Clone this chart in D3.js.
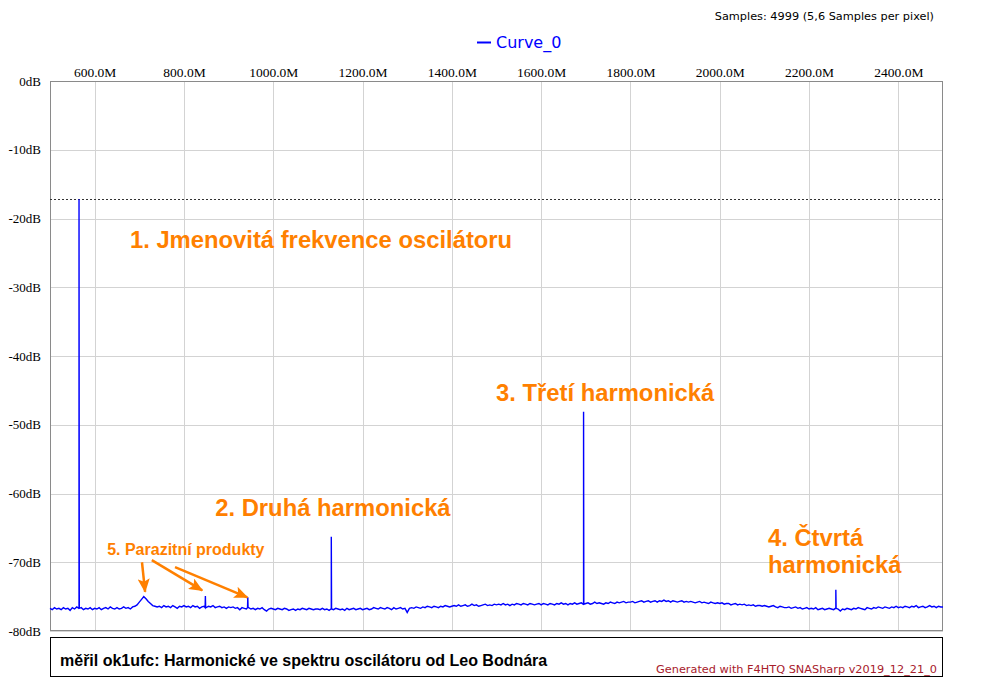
<!DOCTYPE html>
<html>
<head>
<meta charset="utf-8">
<script src="https://cdn.jsdelivr.net/npm/d3@7"></script>
<style>
  html, body { margin: 0; padding: 0; background: #fff; }
  svg { display: block; }
</style>
</head>
<body>
<svg id="chart" width="982" height="682"></svg>
<script>
// ---------------- DATA ----------------
const freqStart = 500;      // MHz, first floor sample
const freqStep = 5;         // MHz between floor samples
// Noise floor (dB), 500 .. 2500 MHz
const floorLevels = [
  -76.7,-76.9,-76.6,-76.8,-76.7,-76.9,-76.6,-76.8,-76.7,-77.0,
  -76.6,-76.8,-76.5,-76.7,-76.6,-76.9,-76.7,-76.8,-76.6,-76.9,
  -76.7,-76.8,-76.6,-76.9,-76.7,-76.6,-76.8,-76.5,-76.7,-76.8,
  -76.6,-76.8,-76.7,-76.5,-76.7,-76.6,-76.8,-76.5,-76.4,-76.2,
  -75.8,-75.4,-75.0,-75.3,-75.7,-76.0,-76.3,-76.4,-76.5,-76.4,
  -76.6,-76.3,-76.5,-76.4,-76.6,-76.3,-76.5,-76.7,-76.4,-76.5,
  -76.3,-76.5,-76.4,-76.6,-76.3,-76.5,-76.4,-76.7,-76.5,-76.4,
  -76.6,-76.4,-76.5,-76.3,-76.6,-76.5,-76.4,-76.6,-76.5,-76.7,
  -76.5,-76.6,-76.5,-76.7,-76.6,-76.9,-76.6,-76.7,-76.8,-76.6,
  -76.8,-76.7,-76.9,-76.7,-76.8,-76.6,-76.9,-77.1,-76.8,-76.7,
  -76.8,-76.9,-76.7,-76.8,-76.9,-76.7,-76.8,-77.0,-76.9,-76.8,
  -77.0,-76.8,-76.9,-76.7,-76.8,-76.9,-76.7,-76.8,-76.9,-76.8,
  -76.8,-76.9,-76.7,-76.9,-76.8,-77.0,-76.8,-76.9,-76.7,-76.8,
  -76.9,-76.8,-77.0,-76.7,-76.9,-76.8,-76.7,-76.9,-76.8,-76.7,
  -76.9,-76.8,-76.7,-76.9,-76.8,-76.6,-76.7,-76.8,-76.6,-76.7,
  -76.8,-76.6,-76.7,-76.9,-76.6,-76.8,-76.7,-76.6,-76.8,-76.7,
  -77.3,-76.7,-76.6,-76.7,-76.5,-76.6,-76.7,-76.5,-76.6,-76.4,
  -76.5,-76.6,-76.4,-76.5,-76.6,-76.4,-76.5,-76.3,-76.4,-76.5,
  -76.4,-76.3,-76.4,-76.2,-76.4,-76.3,-76.2,-76.4,-76.3,-76.1,
  -76.3,-76.2,-76.4,-76.3,-76.2,-76.1,-76.3,-76.2,-76.3,-76.1,
  -76.2,-76.1,-76.2,-76.0,-76.2,-76.1,-76.3,-76.1,-76.2,-76.0,
  -76.1,-76.2,-76.0,-76.1,-76.2,-76.0,-76.1,-76.2,-76.1,-76.0,
  -76.2,-76.0,-76.1,-76.2,-76.0,-76.1,-76.2,-76.0,-76.1,-75.9,
  -76.1,-76.0,-76.2,-76.0,-76.1,-75.9,-76.1,-76.0,-75.9,-76.1,
  -76.0,-75.9,-76.1,-76.0,-75.8,-76.0,-75.9,-76.0,-76.1,-75.9,
  -76.0,-75.8,-75.9,-76.0,-75.8,-75.9,-75.8,-75.7,-75.9,-75.8,
  -75.8,-75.7,-75.9,-75.8,-75.7,-75.6,-75.8,-75.7,-75.6,-75.8,
  -75.7,-75.6,-75.8,-75.6,-75.7,-75.5,-75.7,-75.6,-75.8,-75.6,
  -75.7,-75.8,-75.7,-75.6,-75.8,-75.7,-75.8,-75.7,-75.8,-75.9,
  -75.8,-75.7,-75.9,-75.8,-75.9,-76.0,-75.8,-75.9,-76.0,-75.9,
  -76.0,-75.9,-76.1,-76.0,-76.0,-76.2,-76.1,-76.0,-76.2,-76.1,
  -76.2,-76.1,-76.3,-76.2,-76.3,-76.2,-76.4,-76.3,-76.3,-76.4,
  -76.3,-76.4,-76.5,-76.4,-76.3,-76.5,-76.6,-76.4,-76.5,-76.6,
  -76.6,-76.5,-76.7,-76.6,-76.5,-76.7,-76.6,-76.8,-76.7,-76.6,
  -76.8,-76.7,-76.8,-76.6,-76.9,-76.8,-76.7,-76.9,-76.8,-76.7,
  -76.8,-76.9,-76.7,-76.8,-77.1,-76.8,-76.9,-76.7,-76.8,-76.9,
  -76.7,-76.8,-76.6,-76.7,-76.8,-76.9,-76.6,-76.7,-76.8,-76.6,
  -76.7,-76.5,-76.6,-76.7,-76.5,-76.6,-76.7,-76.5,-76.6,-76.4,
  -76.6,-76.5,-76.6,-76.4,-76.5,-76.6,-76.4,-76.5,-76.3,-76.6,
  -76.5,-76.4,-76.6,-76.5,-76.3,-76.5,-76.4,-76.6,-76.4,-76.5,
  -76.5
];
// Narrow spectral lines (MHz, dB)
const peakFreqs  = [565, 848, 943, 1130, 1695, 2260];
const peakLevels = [-17.2, -74.9, -75.1, -66.3, -48.1, -74.0];
// Marker line level (dB)
const markerLevel = -17.2;

const xTicks = [600, 800, 1000, 1200, 1400, 1600, 1800, 2000, 2200, 2400];
const yTicks = [0, -10, -20, -30, -40, -50, -60, -70, -80];
const seriesName = "Curve_0";
const samplesText = "Samples: 4999 (5,6 Samples per pixel)";
const footerText = "měřil ok1ufc: Harmonické ve spektru oscilátoru od Leo Bodnára";
const generatorText = "Generated with F4HTQ SNASharp v2019_12_21_0";

// Annotations (anchored in data units: MHz, dB)
const annotTexts = ["1. Jmenovitá frekvence oscilátoru", "2. Druhá harmonická", "3. Třetí harmonická", "4. Čtvrtá", "harmonická", "5. Parazitní produkty"];
const annotFreqs = [679, 870, 1499, 2108, 2108, 628];
const annotLevels = [-24.3, -63.3, -46.5, -67.6, -71.6, -68.9];
const annotSizes = [23.8, 23.8, 23.8, 23.8, 23.8, 16];
// Arrows for the spurious products: start (MHz,dB) -> tip (MHz,dB)
const arrowFrom = [[706, -70.0], [728, -69.7], [780, -70.7]];
const arrowTo   = [[713, -74.3], [841, -74.1], [942, -75.1]];

// ---------------- BUILD SERIES ----------------
const floorPts = floorLevels.map((v, i) => ({ f: freqStart + i * freqStep, v }));
const curve = floorPts.slice();
peakFreqs.forEach((pf, k) => {
  const near = floorPts[Math.round((pf - freqStart) / freqStep)].v;
  curve.push({ f: pf - 0.6, v: near });
  curve.push({ f: pf, v: peakLevels[k] });
  curve.push({ f: pf + 0.6, v: near });
});
curve.sort((a, b) => a.f - b.f);

// ---------------- LAYOUT ----------------
const svg = d3.select("#chart");
const plot = { left: 50, top: 81, right: 943, bottom: 631 };
const x = d3.scaleLinear().domain([500, 2500]).range([plot.left, plot.right]);
const y = d3.scaleLinear().domain([0, -80]).range([plot.top, plot.bottom]);

svg.append("rect").attr("width", 982).attr("height", 682).attr("fill", "#fff");

// grid
const gx = svg.append("g").attr("transform", `translate(0,${plot.bottom})`)
  .call(d3.axisBottom(x).tickValues(xTicks).tickSize(-(plot.bottom - plot.top)).tickFormat(""));
gx.select(".domain").remove();
gx.selectAll("line").attr("stroke", "#d3d3d3").attr("shape-rendering", "crispEdges");

const gy = svg.append("g").attr("transform", `translate(${plot.left},0)`)
  .call(d3.axisLeft(y).tickValues(yTicks).tickSize(-(plot.right - plot.left)).tickFormat(""));
gy.select(".domain").remove();
gy.selectAll("line").attr("stroke", "#d3d3d3").attr("shape-rendering", "crispEdges");

// axis labels
const axX = svg.append("g").attr("transform", `translate(0,${plot.top})`)
  .call(d3.axisTop(x).tickValues(xTicks).tickSize(0).tickPadding(4).tickFormat(d => d.toFixed(1) + "M"));
axX.select(".domain").remove();
axX.selectAll("text").attr("font-family", "'Liberation Serif', 'Times New Roman', serif")
  .attr("font-size", 13.5).attr("fill", "#000");

const axY = svg.append("g").attr("transform", `translate(${plot.left},0)`)
  .call(d3.axisLeft(y).tickValues(yTicks).tickSize(0).tickPadding(9).tickFormat(d => d + "dB"));
axY.select(".domain").remove();
axY.selectAll("text").attr("font-family", "'Liberation Serif', 'Times New Roman', serif")
  .attr("font-size", 13).attr("fill", "#000");

// plot border
svg.append("rect")
  .attr("x", plot.left + 0.5).attr("y", plot.top + 0.5)
  .attr("width", plot.right - plot.left - 1).attr("height", plot.bottom - plot.top - 1)
  .attr("fill", "none").attr("stroke", "#8a8a8a");

// marker dashed line
svg.append("line")
  .attr("x1", x(500)).attr("x2", x(2500))
  .attr("y1", Math.round(y(markerLevel)) + 0.5).attr("y2", Math.round(y(markerLevel)) + 0.5)
  .attr("stroke", "#333").attr("stroke-dasharray", "2,2").attr("stroke-width", 1);

// curve
const line = d3.line().x(d => x(d.f)).y(d => y(d.v));
svg.append("path").datum(curve)
  .attr("d", line).attr("fill", "none")
  .attr("stroke", "#0000ff").attr("stroke-width", 1.4).attr("stroke-linejoin", "miter");

// annotations
const orange = "#ff8000";
svg.append("defs").append("marker")
  .attr("id", "arr").attr("viewBox", "0 0 14 12").attr("refX", 13).attr("refY", 6)
  .attr("markerWidth", 14).attr("markerHeight", 12).attr("markerUnits", "userSpaceOnUse")
  .attr("orient", "auto")
  .append("path").attr("d", "M0,0 L14,6 L0,12 L3,6 z").attr("fill", orange);

svg.append("g").selectAll("line").data(arrowFrom).join("line")
  .attr("x1", d => x(d[0])).attr("y1", d => y(d[1]))
  .attr("x2", (d, i) => x(arrowTo[i][0])).attr("y2", (d, i) => y(arrowTo[i][1]))
  .attr("stroke", orange).attr("stroke-width", 2.5).attr("marker-end", "url(#arr)");

svg.append("g").selectAll("text").data(annotTexts).join("text")
  .attr("x", (d, i) => x(annotFreqs[i])).attr("y", (d, i) => y(annotLevels[i]))
  .attr("font-family", "'Liberation Sans', Arial, sans-serif")
  .attr("font-weight", "bold").attr("font-size", (d, i) => annotSizes[i])
  .attr("fill", orange).text(d => d);

// legend
svg.append("line").attr("x1", 477).attr("x2", 491).attr("y1", 42.5).attr("y2", 42.5)
  .attr("stroke", "#0000ff").attr("stroke-width", 2);
svg.append("text").attr("x", 496).attr("y", 48)
  .attr("font-family", "'DejaVu Sans', Verdana, sans-serif").attr("font-size", 16)
  .attr("fill", "#0000ff").text(seriesName);

// samples info
svg.append("text").attr("x", 934).attr("y", 20).attr("text-anchor", "end")
  .attr("font-family", "'DejaVu Sans', Verdana, sans-serif").attr("font-size", 11.3)
  .attr("fill", "#000").text(samplesText);

// footer box
svg.append("rect").attr("x", 50.5).attr("y", 637.5).attr("width", 892).attr("height", 39)
  .attr("fill", "#fff").attr("stroke", "#000");
svg.append("text").attr("x", 60).attr("y", 666)
  .attr("font-family", "'Liberation Sans', Arial, sans-serif").attr("font-weight", "bold")
  .attr("font-size", 16).attr("fill", "#000").text(footerText);
svg.append("text").attr("x", 937).attr("y", 673).attr("text-anchor", "end")
  .attr("font-family", "'DejaVu Sans', Verdana, sans-serif").attr("font-size", 11.3)
  .attr("fill", "#a8202c").text(generatorText);
</script>
</body>
</html>
